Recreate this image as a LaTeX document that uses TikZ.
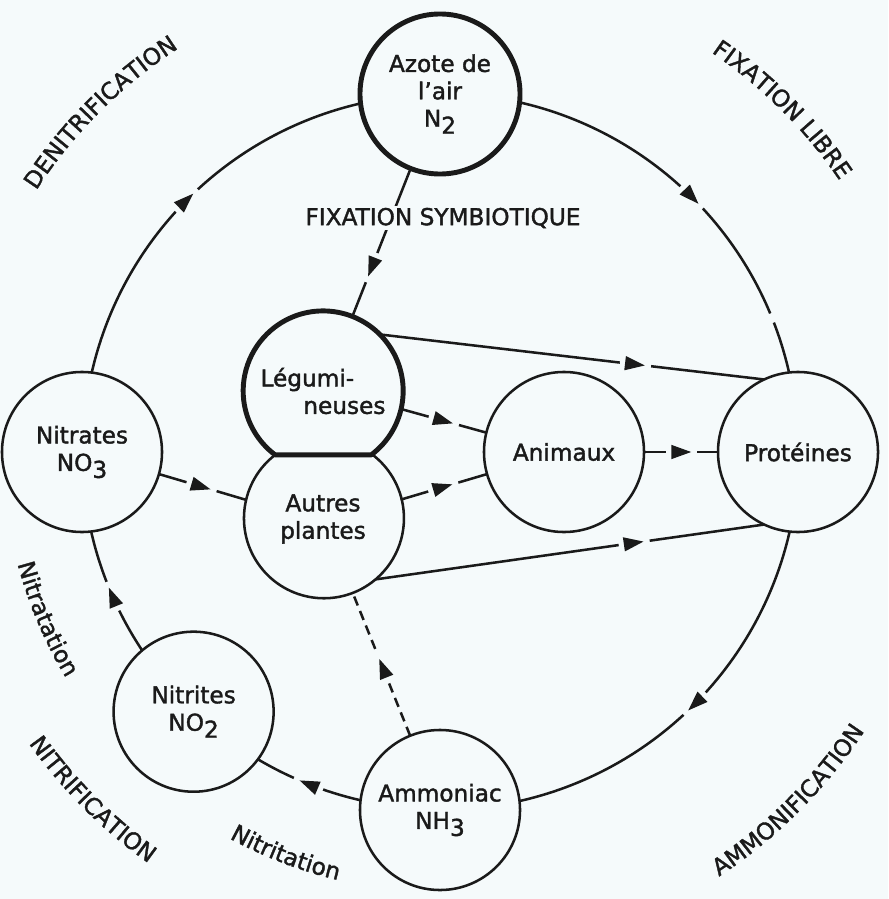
\documentclass[tikz,border=0pt]{standalone}
\usepackage{fontspec}
\setmainfont{DejaVu Sans}[BoldFont={DejaVu Sans},BoldFeatures={FakeBold=1.6}]
\usetikzlibrary{arrows.meta,decorations.markings,decorations.text}
\definecolor{azink}{HTML}{1A1A1A}
\definecolor{azbg}{HTML}{F5FAFB}
\newcommand{\azfont}{\fontsize{16.5}{19.5}\selectfont\bfseries}
\newcommand{\chemsub}[1]{\raisebox{-5pt}{#1}}
\tikzset{
  pool/.style={circle,draw=azink,line width=1.8pt,fill=azbg,minimum size=4cm,
               inner sep=0pt,outer sep=0pt,align=center,font=\azfont,text=azink},
  hub/.style={pool,line width=3.5pt},
  pair/.style={pool,draw=none},
  flow/.style={draw=azink,line width=1.8pt},
  midarrow/.style={postaction={decorate,decoration={markings,mark=at position #1 with
     {\fill[azbg] (-6.3mm,-1.2mm) rectangle (1.5mm,1.2mm);
      \arrow{Triangle[length=5mm,width=3.4mm]}}}}},
  midarrow/.default=0.5,
  brk/.style={postaction={decorate,decoration={markings,mark=at position #1 with
     {\fill[azbg] (-1.2mm,-1.2mm) rectangle (1.2mm,1.2mm);}}}},
  cyclab/.style={decorate,decoration={text along path,text align=center,
     text color=azink,text={|\azfont|#1}}},
}

\begin{document}
\begin{tikzpicture}[x=0.025cm,y=0.025cm]
  \useasboundingbox (0,0) rectangle (888,-899);
  \fill[azbg] (0,0) rectangle (888,-899);
  \coordinate (C) at (440,-452);

  \node[hub]  (azote)    at (440,-94)      {Azote de\\l'air\\N\chemsub{2}};
  \node[pool] (prot)     at (798,-452)     {Protéines};
  \node[pool] (ammoniac) at (440,-810)     {Ammoniac\\NH\chemsub{3}};
  \node[pool] (nitrites) at (193.6,-711.7) {Nitrites\\NO\chemsub{2}};
  \node[pool] (nitrates) at (82,-452)      {Nitrates\\NO\chemsub{3}};
  \node[pool] (animaux)  at (564,-452)     {Animaux};
  \node[pair,align=left] (legum) at (323,-391) {Légumi-\\\hspace*{1.07cm}neuses};
  \node[pair] (autres)   at (323,-519)     {Autres\\plantes};

  % the nitrogen cycle
  \draw[flow,midarrow=0.52] (nitrates.83.57) arc[start angle=167.13,end angle=102.87,radius=358];
  \draw[flow,midarrow=0.52,brk=0.86] (azote.-6.43) arc[start angle=77.13,end angle=12.87,radius=358];
  \draw[flow,midarrow=0.52] (prot.-96.43) arc[start angle=-12.87,end angle=-77.13,radius=358];
  \draw[flow,midarrow=0.58] (ammoniac.173.57) arc[start angle=-102.87,end angle=-120.63,radius=358];
  \draw[flow,midarrow=0.55] (nitrites.130.07) arc[start angle=-146.37,end angle=-167.13,radius=358];

  \draw[flow,midarrow=0.73] (azote) -- (legum);
  \node[font=\azfont,text=azink,fill=azbg,inner sep=1.5pt] (fixsym) at (443,-218) {FIXATION SYMBIOTIQUE};
  \draw[flow,midarrow=0.69] (legum.45) -- (prot.115);
  \draw[flow,midarrow=0.61] (legum.-13) -- (animaux.166);
  \draw[flow,midarrow=0.6] (autres.14) -- (animaux.-164);
  \draw[flow,midarrow=0.69] (autres.-49) -- (prot.-115);
  \draw[flow,midarrow=0.64] (animaux) -- (prot);
  \draw[flow,midarrow=0.6] (nitrates.-16) -- (autres.166);
  \draw[flow,dash pattern=on 2.4mm off 1.5mm,midarrow=0.54] (ammoniac) -- (autres);

  % plants: joined pair
  \draw[flow] (autres.126.87) arc[start angle=126.87,end angle=413.13,radius=80];
  \draw[flow,line width=3.5pt,line join=round] (legum.-53.13) arc[start angle=-53.13,end angle=233.13,radius=80] -- cycle;

  % process names
  \path[cyclab=DENITRIFICATION] ([shift={(165:481)}]C) arc[start angle=165,end angle=105,radius=481];
  \path[cyclab={FIXATION LIBRE}] ([shift={(75:483)}]C) arc[start angle=75,end angle=15,radius=483];
  \path[cyclab=NITRIFICATION] ([shift={(195:504)}]C) arc[start angle=195,end angle=255,radius=504];
  \path[cyclab=AMMONIFICATION] ([shift={(285:508)}]C) arc[start angle=285,end angle=345,radius=508];
  \path[cyclab=Nitratation] ([shift={(183:437)}]C) arc[start angle=183,end angle=223,radius=437];
  \path[cyclab=Nitritation] ([shift={(229:440)}]C) arc[start angle=229,end angle=269,radius=440];
\end{tikzpicture}
\end{document}
